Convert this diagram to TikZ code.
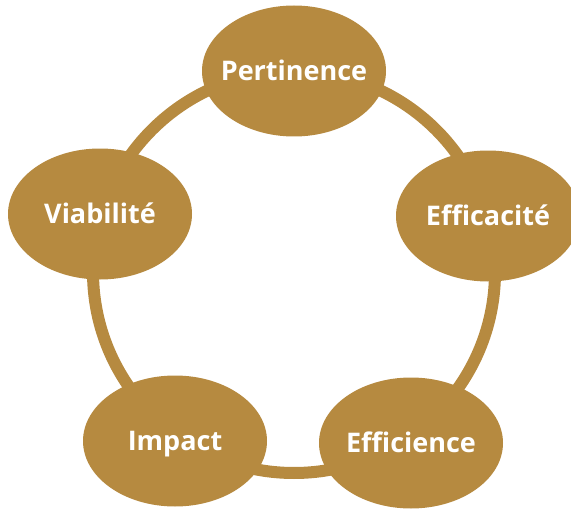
\documentclass[tikz,border=0pt]{standalone}
\usepackage{fontspec}
\setmainfont{Open Sans}
\usetikzlibrary{shapes.geometric}
\definecolor{gold}{HTML}{B68A40}
\tikzset{
  bubble/.style={ellipse, fill=gold, minimum width=184pt, minimum height=131pt,
    inner sep=-40pt, text=white, font=\bfseries\fontsize{27}{30}\selectfont,
    text height=19.5pt, text depth=0pt},
  ring/.style={draw=gold, line width=12pt}
}
\begin{document}
\begin{tikzpicture}[x=1pt,y=-1pt]
\useasboundingbox (0,0) rectangle (571,511);
\coordinate (c) at (294,272);
\draw[ring] (c) circle[radius=201];
\node[bubble] (pert) at (294,71) {Pertinence};
\node[bubble] (effa) at (488,216) {Efficacité};
\node[bubble] (effi) at (411,443) {Efficience};
\node[bubble] (imp) at (175,441) {Impact};
\node[bubble] (via) at (100,214) {Viabilité};
\end{tikzpicture}
\end{document}
